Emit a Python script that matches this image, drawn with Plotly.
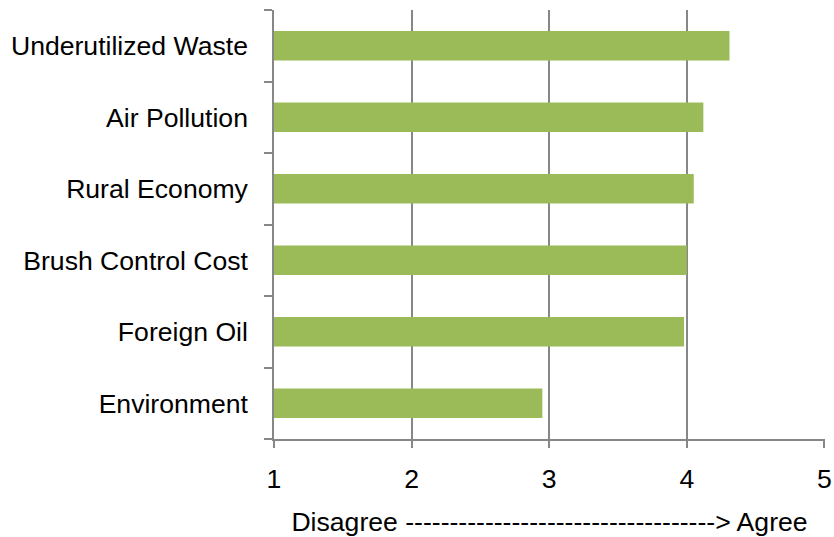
import plotly.graph_objects as go

categories = ["Underutilized Waste", "Air Pollution", "Rural Economy",
              "Brush Control Cost", "Foreign Oil", "Environment"]
values = [4.31, 4.12, 4.05, 4.00, 3.98, 2.95]
x_ticks = [1, 2, 3, 4, 5]
x_title = "Disagree " + "-" * 35 + "> Agree"

FONT = "Liberation Sans, Arial, sans-serif"
GRAY = "#878787"
FS = 26.6

fig = go.Figure(go.Bar(
    y=categories,
    x=values,
    orientation="h",
    marker=dict(color="#9BBB59", line=dict(width=0)),
    width=0.41,
))

fig.update_layout(
    width=834, height=537,
    margin=dict(l=274, r=9, t=10, b=98),
    paper_bgcolor="white", plot_bgcolor="white",
    font=dict(family=FONT, size=FS, color="black"),
    showlegend=False,
    bargap=0.59,
)

fig.update_xaxes(
    range=[1, 5.004],
    tickvals=x_ticks,
    ticktext=[str(t) for t in x_ticks],
    showgrid=True, gridcolor=GRAY, gridwidth=1.5,
    showline=True, linecolor=GRAY, linewidth=1.5,
    ticks="outside", ticklen=7, tickcolor=GRAY, tickwidth=1.5,
    ticklabelstandoff=8,
    zeroline=False,
    automargin=False,
    title=dict(text=x_title, font=dict(size=FS, color="black"), standoff=20),
    tickfont=dict(size=FS, color="black"),
)

fig.update_yaxes(
    categoryorder="array",
    categoryarray=categories[::-1],
    range=[-0.5, 5.5],
    showgrid=False,
    showline=True, linecolor=GRAY, linewidth=1.5,
    ticks="outside", ticklen=8, tickcolor=GRAY, tickwidth=1.5,
    tickson="boundaries",
    ticklabelstandoff=19,
    automargin=False,
    tickfont=dict(size=FS, color="black"),
)

fig.write_html(
    "out.html",
    config={"displayModeBar": False},
    post_script="document.body.style.margin='0';document.body.style.overflow='hidden';",
)
